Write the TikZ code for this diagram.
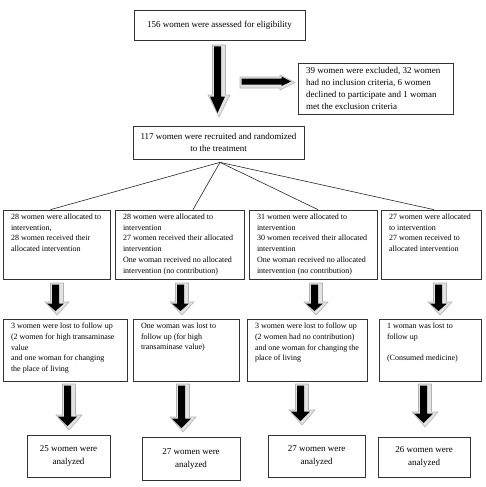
\documentclass[tikz,border=0pt]{standalone}
\usepackage{fontspec}
\setmainfont{Liberation Serif}
\usetikzlibrary{calc,positioning}

\newcommand{\bigfont}{\fontsize{9}{12.2}\selectfont}
\newcommand{\rowfont}{\fontsize{8}{10.7}\selectfont}
\newcommand{\resultfont}{\fontsize{9}{13}\selectfont}
% text block kept at the top of a box
\newcommand{\cellbox}[3]{\parbox[c][#2][t]{#1}{\raggedright\vspace*{4pt}#3}}

% block arrow pointing down: x, top, tip, head length, head half width
\newcommand{\downblock}[5]{%
  \filldraw[arrowshade] (#1-6.5,#2) -- (#1+6.5,#2) -- (#1+6.5,#3-#4) -- (#1+#5,#3-#4)
    -- (#1,#3) -- (#1-#5,#3-#4) -- (#1-6.5,#3-#4) -- cycle;
  \fill[black] (#1-5,#2+1.5) -- (#1+2,#2+1.5) -- (#1+2,#3-#4+1.5) -- (#1+#5-5,#3-#4+1.5)
    -- (#1-1.5,#3-4) -- (#1-#5+2,#3-#4+1.5) -- (#1-5,#3-#4+1.5) -- cycle;
}
% block arrow pointing right: y, start, tip, head length, head half width
\newcommand{\rightblock}[5]{%
  \filldraw[arrowshade] (#2,#1-5.5) -- (#2,#1+5.5) -- (#3-#4,#1+5.5) -- (#3-#4,#1+#5)
    -- (#3,#1) -- (#3-#4,#1-#5) -- (#3-#4,#1-5.5) -- cycle;
  \fill[black] (#2+1.5,#1-4) -- (#2+1.5,#1+2) -- (#3-#4+1.5,#1+2) -- (#3-#4+1.5,#1+#5-4)
    -- (#3-4,#1-1) -- (#3-#4+1.5,#1-#5+1.5) -- (#3-#4+1.5,#1-4) -- cycle;
}

\tikzset{
  flowbox/.style={draw=black!80, line width=0.7pt, inner sep=0pt, align=center},
  cellnode/.style={draw=black!80, line width=0.7pt, inner xsep=8pt, inner ysep=0pt},
  arrowshade/.style={fill=gray!22, draw=gray!60, line width=0.6pt},
  fanline/.style={line width=0.6pt, draw=black!85},
}

\begin{document}
\begin{tikzpicture}[x=1pt, y=-1pt]
    \useasboundingbox (0,0) rectangle (485,487);

    % Screening
    \node[flowbox, minimum width=171pt, minimum height=30pt, font=\bigfont] (assess) at (219.5,25)
        {156 women were assessed for eligibility};
    \node[cellnode, font=\bigfont] (excluded) at (375.5,88.5)
        {\cellbox{139pt}{51pt}{39 women were excluded, 32 women\\ had no inclusion criteria, 6 women\\
         declined to participate and 1 woman\\ met the exclusion criteria}};
    \node[flowbox, minimum width=171pt, minimum height=33pt, font=\fontsize{9}{11.7}\selectfont] (rand) at (218.5,142.5)
        {117 women were recruited and randomized\\ to the treatment};

    \downblock{219}{45}{117}{22}{11}
    \rightblock{82.5}{240}{295}{15}{7.5}

    % Allocation
    \node[cellnode, font=\rowfont] (alloc1) at (56.5,244.5)
        {\cellbox{91pt}{69pt}{28 women were allocated to\\ intervention,\\ 28 women received their\\ allocated intervention}};
    \node[cellnode, font=\rowfont] (alloc2) at (179.5,244.5)
        {\cellbox{113pt}{69pt}{28 women were allocated to\\ intervention\\ 27 women received their allocated\\
         intervention\\ One woman received no allocated\\ intervention (no contribution)}};
    \node[cellnode, font=\rowfont] (alloc3) at (313,244.5)
        {\cellbox{112pt}{69pt}{31 women were allocated to\\ intervention\\ 30 women received their allocated\\
         intervention\\ One woman received no allocated\\ intervention (no contribution)}};
    \node[cellnode, font=\rowfont] (alloc4) at (431,244.5)
        {\cellbox{84pt}{69pt}{27 women were allocated\\ to intervention\\ 27 women received to\\ allocated intervention}};

    % Split of the randomized group
    \coordinate (split) at ($(rand.south)+(1.5,3)$);
    \draw[fanline] (split) -- ($(alloc1.north)+(-6,0)$);
    \draw[fanline] (split) -- ($(alloc2.north)+(13.5,0)$);
    \draw[fanline] (split) -- ($(alloc3.north)+(5,0)$);
    \draw[fanline] (split) -- ($(alloc4.north)+(3,0)$);

    \downblock{57}{283}{315}{13}{12}
    \downblock{182}{283}{315}{13}{12}
    \downblock{316}{283}{315}{13}{12}
    \downblock{440}{283}{315}{13}{12}

    % Follow up
    \node[cellnode, font=\rowfont] (lost1) at (65,350)
        {\cellbox{108pt}{62pt}{3 women were lost to follow up\\ (2 women for high transaminase\\ value\\
         and one woman for changing\\ the place of living}};
    \node[cellnode, font=\rowfont] (lost2) at (186,350)
        {\cellbox{90pt}{62pt}{One woman was lost to\\ follow up (for high\\ transaminase value)}};
    \node[cellnode, font=\rowfont] (lost3) at (307,350)
        {\cellbox{104pt}{62pt}{3 women were lost to follow up\\ (2 women had no contribution)\\
         and one woman for changing the\\ place of living}};
    \node[cellnode, font=\rowfont] (lost4) at (430,350)
        {\cellbox{86pt}{62pt}{1 woman was lost to\\ follow up\\[10.7pt] (Consumed medicine)}};

    \downblock{69}{384}{430}{15}{13}
    \downblock{183}{384}{432}{15}{13}
    \downblock{302}{384}{425}{15}{13}
    \downblock{425}{384}{427}{15}{13}

    % Analysis
    \node[flowbox, minimum width=83pt, minimum height=42pt, font=\resultfont] (anal1) at (68.5,456)
        {25 women were\\ analyzed};
    \node[flowbox, minimum width=98pt, minimum height=43pt, font=\resultfont] (anal2) at (191,458.5)
        {27 women were\\ analyzed};
    \node[flowbox, minimum width=97pt, minimum height=42pt, font=\resultfont] (anal3) at (316.5,456)
        {27 women were\\ analyzed};
    \node[flowbox, minimum width=92pt, minimum height=40pt, font=\resultfont] (anal4) at (424,457)
        {26 women were\\ analyzed};
\end{tikzpicture}
\end{document}
